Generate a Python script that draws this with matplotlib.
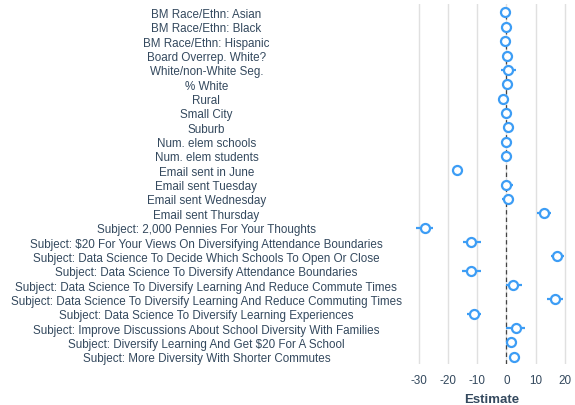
import numpy as np
import matplotlib.pyplot as plt

plt.rcParams['font.family'] = ['Liberation Sans', 'DejaVu Sans']
plt.rcParams['axes.unicode_minus'] = False

terms = [
    "BM Race/Ethn: Asian",
    "BM Race/Ethn: Black",
    "BM Race/Ethn: Hispanic",
    "Board Overrep. White?",
    "White/non-White Seg.",
    "% White",
    "Rural",
    "Small City",
    "Suburb",
    "Num. elem schools",
    "Num. elem students",
    "Email sent in June",
    "Email sent Tuesday",
    "Email sent Wednesday",
    "Email sent Thursday",
    "Subject: 2,000 Pennies For Your Thoughts",
    "Subject: $20 For Your Views On Diversifying Attendance Boundaries",
    "Subject: Data Science To Decide Which Schools To Open Or Close",
    "Subject: Data Science To Diversify Attendance Boundaries",
    "Subject: Data Science To Diversify Learning And Reduce Commute Times",
    "Subject: Data Science To Diversify Learning And Reduce Commuting Times",
    "Subject: Data Science To Diversify Learning Experiences",
    "Subject: Improve Discussions About School Diversity With Families",
    "Subject: Diversify Learning And Get $20 For A School",
    "Subject: More Diversity With Shorter Commutes",
]
estimate = [-0.5, 0.0, -0.4, 0.3, 0.4, 0.3, -1.3, -0.2, 0.4, 0.0, 0.0, -16.9,
            0.0, 0.6, 12.9, -28.0, -12.0, 17.4, -12.3, 2.3, 16.7, -11.2, 3.1, 1.4, 2.6]
conf_low = [-0.8, -0.3, -0.7, -0.2, -2.0, 0.0, -1.6, -0.5, 0.1, -0.2, -0.2, -17.2,
            -2.0, -1.5, 10.6, -30.9, -14.8, 15.1, -15.4, -0.2, 13.9, -13.7, -0.2, -0.2, 1.8]
conf_high = [-0.2, 0.3, -0.1, 0.8, 3.2, 0.6, -1.0, 0.1, 0.7, 0.2, 0.2, -16.6,
             2.2, 2.5, 15.4, -25.1, -8.9, 19.7, -8.9, 5.2, 19.5, -8.6, 6.3, 2.8, 3.4]

blue = '#3d9df5'
txt = '#34495e'

fig = plt.figure(figsize=(5.75, 4.06), dpi=100)
ax = fig.add_axes([0.7165, 0.101, 0.278, 0.887])

pos = np.arange(len(terms))
ax.hlines(pos, conf_low, conf_high, color=blue, lw=1.6, zorder=3)
ax.plot(estimate, pos, 'o', ms=6.5, mfc='white', mec=blue, mew=1.6, zorder=4)
ax.axvline(0, color='#444444', ls=(0, (3.5, 2.5)), lw=0.9, zorder=2)

ax.set_xlim(-32.4, 22.4)
ax.set_ylim(len(terms) - 0.5, -0.6)
ax.set_xticks([-30, -20, -10, 0, 10, 20])
ax.grid(axis='x', color='#e0e0e0', lw=1.0)
ax.set_axisbelow(True)
for s in ax.spines.values():
    s.set_visible(False)

ax.set_yticks(pos)
ax.set_yticklabels(terms, ha='center', fontsize=8.35, color=txt)
ax.tick_params(axis='y', length=0, pad=148)
ax.tick_params(axis='x', length=0, labelsize=8.35, labelcolor=txt, pad=7.5)
ax.set_xlabel("Estimate", fontsize=9.5, fontweight='bold', color=txt, labelpad=4.5)

fig.savefig("out.png", dpi=100)
